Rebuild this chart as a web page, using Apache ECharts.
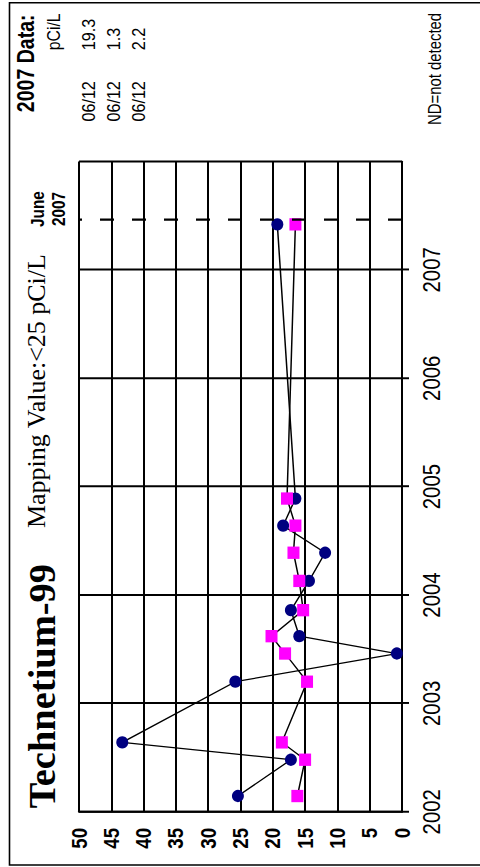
<!DOCTYPE html>
<html><head><meta charset="utf-8">
<script src="https://cdn.jsdelivr.net/npm/echarts@6/dist/echarts.min.js"></script>
<style>
html,body{margin:0;padding:0;background:#fff;width:480px;height:867px;overflow:hidden}
#wrap{position:absolute;left:0;top:867px;width:1020px;height:480px;transform-origin:0 0;transform:rotate(-90deg) scale(0.85,1);}
</style></head><body>
<div id="wrap"></div>
<script>
// Sample dates (decimal years)
const sampleDates = [2002.145, 2002.48, 2002.64, 2003.2, 2003.46, 2003.62, 2003.86, 2004.13, 2004.39, 2004.64, 2004.89, 2007.42];
// Well A (navy circles), pCi/L
const navyValues = [25.4, 17.2, 43.3, 25.8, 0.8, 15.9, 17.2, 14.4, 11.9, 18.4, 16.5, 19.3];
// Well B (magenta squares), pCi/L
const magentaValues = [16.2, 15.0, 18.6, 14.7, 18.1, 20.2, 15.3, 15.9, 16.8, 16.5, 17.8, 16.5];
const yearMin = 2002, yearMax = 2008;
const valueMin = 0, valueMax = 50, valueStep = 5;
const markerDate = 2007.46;
const tableDates = ['06/12', '06/12', '06/12'];
const tableValues = ['19.3', '1.3', '2.2'];

const S = 0.85;
const chart = echarts.init(document.getElementById('wrap'), null, {renderer: 'svg', width: 1020, height: 480});
const sans = 'Liberation Sans, Arial, sans-serif';
const serif = 'Liberation Serif, Times New Roman, serif';

function txt(x, y, text, size, opts) {
  opts = opts || {};
  return {
    type: 'text', x: x, y: y, z: 10,
    scaleX: opts.scaleX || 1,
    style: {
      text: text, fontSize: size, fontFamily: opts.family || sans,
      fontWeight: opts.bold ? 'bold' : 'normal', fill: '#000',
      align: opts.align || 'left', verticalAlign: 'middle'
    }
  };
}

const graphics = [
  {type: 'rect', z: 0, shape: {x: 2.4, y: 9.5, width: 1014.4, height: 478}, style: {fill: 'none', stroke: '#000', lineWidth: 1.6}},
  txt(69, 42, 'Technetium-99', 38.5, {bold: true, family: serif, scaleX: 1 / S}),
  txt(398.8, 36.5, 'Mapping Value:<25 pCi/L', 26, {family: serif, scaleX: 1 / S}),
  txt(774, 38, 'June', 18, {bold: true, align: 'center'}),
  txt(774, 59, '2007', 18, {bold: true, align: 'center'}),
  txt(888, 26.5, '2007 Data:', 23, {bold: true}),
  txt(961, 54, 'pCi/L', 18.5),
  txt(873, 435, 'ND=not detected', 17.5)
];
tableValues.forEach(function (v, i) {
  graphics.push(txt(961, 88.5 + i * 25, v, 19));
  graphics.push(txt(877, 88.5 + i * 25, tableDates[i], 19));
});

const option = {
  animation: false,
  backgroundColor: '#fff',
  grid: {left: 65, right: 190, top: 79, bottom: 78, containLabel: false},
  xAxis: {
    type: 'value', min: yearMin, max: yearMax, interval: 1,
    axisLine: {show: true, lineStyle: {color: '#000', width: 2}},
    axisTick: {show: true, length: 7, lineStyle: {color: '#000', width: 2.3}},
    axisLabel: {show: true, showMaxLabel: false, margin: 18, fontFamily: sans, fontSize: 24, color: '#000',
      formatter: function (v) { return String(v); }},
    splitLine: {show: true, lineStyle: {color: '#000', width: 2.3}}
  },
  yAxis: {
    type: 'value', min: valueMin, max: valueMax, interval: valueStep,
    axisLine: {show: true, lineStyle: {color: '#000', width: 2.3}},
    axisTick: {show: false},
    axisLabel: {margin: 19, fontFamily: sans, fontWeight: 'bold', fontSize: 22, color: '#000'},
    splitLine: {show: true, lineStyle: {color: '#000', width: 2}}
  },
  series: [
    {
      type: 'line', name: 'A', z: 3,
      data: sampleDates.map(function (d, i) { return [d, navyValues[i]]; }),
      symbol: 'circle', symbolSize: [14.5, 12], showAllSymbol: true,
      itemStyle: {color: '#000080'}, lineStyle: {color: '#000', width: 1.5},
      markLine: {
        silent: true, symbol: ['none', 'none'], label: {show: false},
        lineStyle: {color: '#000', width: 2.6, type: [14, 18]},
        data: [{xAxis: markerDate}]
      }
    },
    {
      type: 'line', name: 'B', z: 4,
      data: sampleDates.map(function (d, i) { return [d, magentaValues[i]]; }),
      symbol: 'rect', symbolSize: [14.5, 12], showAllSymbol: true,
      itemStyle: {color: '#FF00FF'}, lineStyle: {color: '#000', width: 1.5}
    }
  ],
  graphic: graphics
};
chart.setOption(option);
</script>
</body></html>
